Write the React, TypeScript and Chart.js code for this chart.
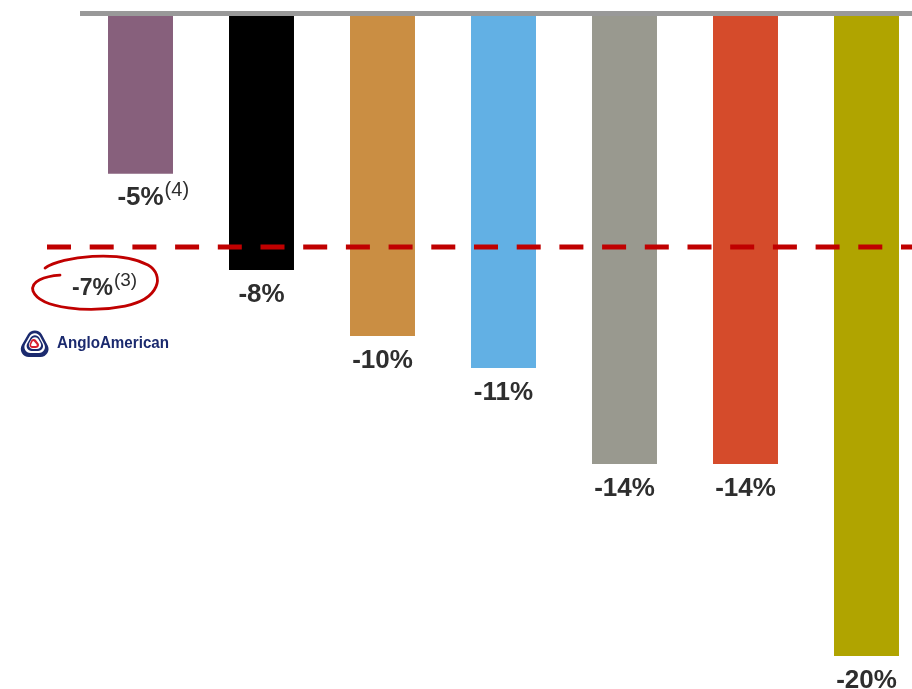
import React, { useEffect, useRef } from "react";
import { Chart, registerables } from "chart.js";

Chart.register(...registerables);

const categories = ["Peer 1", "Peer 2", "Peer 3", "Peer 4", "Peer 5", "Peer 6", "Peer 7"];
const values = [-4.93, -7.94, -10, -11, -14, -14, -20];
const valueLabels = ["-5%", "-8%", "-10%", "-11%", "-14%", "-14%", "-20%"];
const footnotes = ["(4)", "", "", "", "", "", ""];
const barColors = ["#87607C", "#000000", "#CA8E43", "#62B0E4", "#99998F", "#D54B2B", "#B0A400"];
const angloValue = -7.22;
const angloLabel = "-7%";
const angloFootnote = "(3)";
const logoText = "AngloAmerican";

const FONT = '"Liberation Sans", Arial, sans-serif';

function roundedTri(ctx: CanvasRenderingContext2D, pts: number[][], r: number) {
  ctx.beginPath();
  const n = pts.length;
  const s = [(pts[n - 1][0] + pts[0][0]) / 2, (pts[n - 1][1] + pts[0][1]) / 2];
  ctx.moveTo(s[0], s[1]);
  for (let i = 0; i < n; i++) {
    const p = pts[i];
    const q = pts[(i + 1) % n];
    ctx.arcTo(p[0], p[1], q[0], q[1], r);
  }
  ctx.closePath();
}

const overlayPlugin = {
  id: "overlay",
  afterDatasetsDraw(chart: any) {
    const ctx: CanvasRenderingContext2D = chart.ctx;
    const area = chart.chartArea;
    const yScale = chart.scales.y;
    const meta = chart.getDatasetMeta(0);
    ctx.save();

    // zero line at top
    ctx.fillStyle = "#999999";
    ctx.fillRect(area.left, yScale.getPixelForValue(0) - 5, chart.width - area.left, 5);

    // value labels
    meta.data.forEach((bar: any, i: number) => {
      const base = bar.y + 31.5;
      ctx.fillStyle = "#2E2E2E";
      ctx.font = `bold 26px ${FONT}`;
      ctx.textBaseline = "alphabetic";
      ctx.textAlign = "center";
      ctx.fillText(valueLabels[i], bar.x, base);
      if (footnotes[i]) {
        const w = ctx.measureText(valueLabels[i]).width;
        ctx.font = `20px ${FONT}`;
        ctx.textAlign = "left";
        ctx.fillText(footnotes[i], bar.x + w / 2 + 1, base - 9);
      }
    });

    // dashed Anglo American line
    const ly = yScale.getPixelForValue(angloValue);
    ctx.strokeStyle = "#C00000";
    ctx.lineWidth = 5;
    ctx.setLineDash([24, 18.7]);
    ctx.beginPath();
    ctx.moveTo(47, ly);
    ctx.lineTo(chart.width, ly);
    ctx.stroke();
    ctx.setLineDash([]);

    // Anglo label
    const ab = ly + 48;
    ctx.fillStyle = "#2E2E2E";
    ctx.font = `bold 23px ${FONT}`;
    ctx.textAlign = "center";
    ctx.textBaseline = "alphabetic";
    ctx.fillText(angloLabel, 92.5, ab);
    const aw = ctx.measureText(angloLabel).width;
    ctx.font = `19px ${FONT}`;
    ctx.textAlign = "left";
    ctx.fillText(angloFootnote, 92.5 + aw / 2 + 1, ab - 9);

    // hand-drawn loop
    ctx.strokeStyle = "#C00000";
    ctx.lineWidth = 2.8;
    ctx.lineCap = "round";
    ctx.beginPath();
    ctx.moveTo(45, ly + 21);
    ctx.bezierCurveTo(62, ly + 9, 120, ly + 3, 148, ly + 18);
    ctx.bezierCurveTo(165, ly + 28, 160, ly + 52, 125, ly + 59);
    ctx.bezierCurveTo(90, ly + 66, 40, ly + 62, 33, ly + 44);
    ctx.bezierCurveTo(30, ly + 34, 45, ly + 29, 60, ly + 28);
    ctx.stroke();

    // logo
    const navy = "#1B2A6E";
    ctx.fillStyle = navy;
    roundedTri(ctx, [[35, 322], [54, 357], [15, 357]], 8);
    ctx.fill();
    ctx.fillStyle = "#FFFFFF";
    roundedTri(ctx, [[35, 327], [49, 353], [20, 353]], 6);
    ctx.fill();
    ctx.fillStyle = navy;
    roundedTri(ctx, [[35, 330], [46.5, 351], [23, 351]], 5);
    ctx.fill();
    ctx.fillStyle = "#FFFFFF";
    roundedTri(ctx, [[35, 333], [44, 349], [26, 349]], 4);
    ctx.fill();
    ctx.fillStyle = "#D8202F";
    roundedTri(ctx, [[33, 336], [42, 348], [28, 348]], 3);
    ctx.fill();
    ctx.fillStyle = "#FFFFFF";
    roundedTri(ctx, [[33, 340.5], [38, 346], [30.5, 346]], 1);
    ctx.fill();

    ctx.fillStyle = navy;
    ctx.font = `bold 17px ${FONT}`;
    ctx.textAlign = "left";
    ctx.textBaseline = "alphabetic";
    ctx.fillText(logoText, 57, 348, 112);

    ctx.restore();
  },
};

export default function App() {
  const ref = useRef<HTMLCanvasElement | null>(null);
  useEffect(() => {
    if (!ref.current) return;
    const chart = new Chart(ref.current, {
      type: "bar",
      data: {
        labels: categories,
        datasets: [
          {
            data: values,
            backgroundColor: barColors,
            borderWidth: 0,
            categoryPercentage: 1,
            barPercentage: 0.537,
          },
        ],
      },
      options: {
        responsive: false,
        animation: false,
        devicePixelRatio: 1,
        layout: { padding: { left: 80, top: 16, right: 3, bottom: 1 } },
        scales: {
          x: { display: false, offset: true },
          y: { display: false, min: -21, max: 0 },
        },
        plugins: { legend: { display: false }, tooltip: { enabled: false } },
      },
      plugins: [overlayPlugin],
    });
    return () => chart.destroy();
  }, []);
  return (
    <div
      style={{
        position: "fixed",
        left: 0,
        top: 0,
        width: 912,
        height: 689,
        overflow: "hidden",
        background: "#FFFFFF",
      }}
    >
      <canvas ref={ref} width={930} height={689} style={{ display: "block" }} />
    </div>
  );
}
